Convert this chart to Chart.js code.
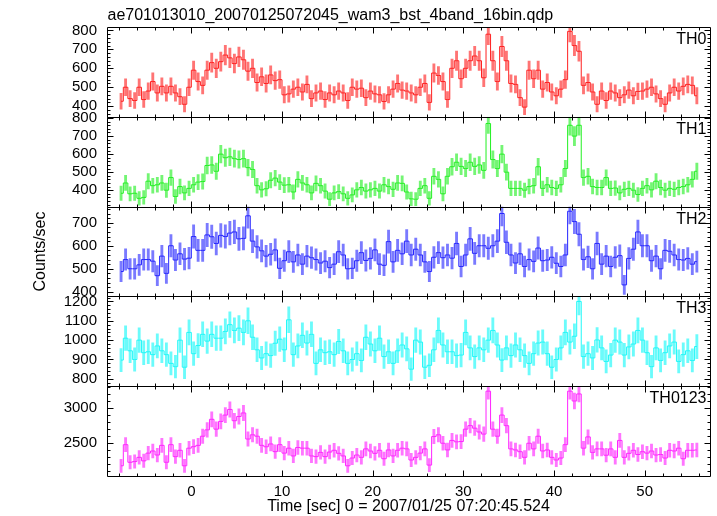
<!DOCTYPE html>
<html>
<head>
<meta charset="utf-8">
<script src="https://cdn.jsdelivr.net/npm/chart.js@4.4.1/dist/chart.umd.min.js"></script>
<style>
  html, body { margin: 0; padding: 0; background: #fff; }
</style>
</head>
<body>
<canvas id="lc" width="717" height="516"></canvas>
<script>
// bin centres start at -7.75 s, one value every 0.5 s
const T_START = -7.75;
const T_STEP = 0.5;
const EXPOSURE = 0.25; // s per bin, for the poisson error bars

const th0 = [
  426,500,440,430,500,435,480,530,470,505, 470,505,470,450,410,500,590,530,510,590,
  630,600,635,670,655,625,660,645,585,600, 525,555,520,565,535,540,460,465,490,500,
  475,515,440,470,480,435,470,460,480,470, 430,500,490,495,445,480,465,460,425,460,
  490,520,485,480,
  470,460,500,520,420,575,562,530,435,600, 640,545,600,640,665,640,550,780,640,530,
  715,640,520,515,445,395,590,545,590,490, 525,475,455,490,540,795,720,690,510,525,
  475,410,480,430,480,470,445,460,485,455, 478,480,490,500,465,440,410,470,500,480,
  505,515,510,455
];
const th1 = [
  383,440,380,383,355,360,450,425,430,440, 400,470,365,420,385,410,430,445,448,537,
  540,505,600,580,585,575,570,575,525,515, 425,402,408,455,467,445,428,430,390,460,
  440,430,385,438,425,395,350,385,392,380, 355,374,402,415,395,402,410,395,430,420,
  405,440,438,390,
  352,350,410,425,355,477,460,380,477,530, 555,532,520,555,532,540,510,770,570,520,
  600,500,410,410,410,400,420,425,530,410, 430,415,410,430,520,760,700,760,470,477,
  420,415,415,470,410,412,385,405,410,400, 376,410,425,402,450,415,400,410,405,415,
  420,430,460,505
];
const th2 = [
  488,540,500,500,517,540,540,533,470,555, 480,600,538,565,542,546,640,580,580,647,
  639,610,645,640,655,660,630,632,730,620, 595,578,555,563,582,502,535,574,530,560,
  520,555,548,540,525,533,505,520,574,560, 500,502,535,570,536,545,582,520,515,618,
  530,580,565,620,
  560,585,560,530,488,550,570,548,560,546, 610,510,560,630,567,600,600,589,600,620,
  740,615,560,525,565,510,540,532,590,535, 538,550,524,510,560,750,705,650,540,552,
  500,610,520,555,510,550,557,430,545,585, 660,600,600,535,555,500,580,576,560,540,
  538,545,520,531
];
const th3 = [
  897,1010,945,900,1000,935,940,925,970,945, 925,880,863,1000,860,1040,930,972,1030,995,
  1030,1010,1010,1045,1080,1050,1062,1040,1100,1015, 950,908,930,920,984,1005,950,1105,925,970,
  1025,985,1030,880,950,935,940,925,993,945, 880,900,930,895,1015,980,945,1010,915,940,
  880,945,975,955,
  850,1000,990,860,870,950,1050,975,940,940, 920,923,1040,960,915,960,950,1000,1050,975,
  897,960,920,975,950,920,880,930,985,990, 930,860,900,960,1040,990,1020,1200,915,930,
  908,1001,960,890,923,1000,990,923,965,980, 1050,1000,935,863,960,895,935,970,990,890,
  925,945,895,967
];
const th0123 = [
  2180,2480,2230,2240,2300,2250,2360,2390,2333,2470, 2230,2480,2310,2400,2180,2430,2452,2470,2600,2690,
  2840,2700,2810,2900,2980,2820,2880,2930,2560,2620, 2600,2470,2450,2490,2381,2480,2360,2430,2320,2440,
  2430,2430,2320,2310,2370,2310,2375,2400,2357,2320, 2180,2290,2333,2300,2420,2390,2357,2400,2280,2405,
  2320,2400,2430,2420,
  2262,2300,2360,2420,2190,2595,2620,2500,2405,2540, 2520,2524,2700,2750,2714,2660,2630,3240,2700,2600,
  2900,2750,2420,2405,2380,2300,2500,2420,2600,2390, 2405,2300,2262,2290,2480,3240,3100,3200,2430,2590,
  2370,2420,2420,2330,2420,2300,2540,2300,2357,2400, 2340,2380,2360,2390,2333,2340,2290,2400,2390,2430,
  2280,2400,2400,2405
];

const bandNames = ['TH0', 'TH1', 'TH2', 'TH3', 'TH0123'];
const bandValues = [th0, th1, th2, th3, th0123];
const xTickValues = [0, 10, 20, 30, 40, 50];
const yTickValues = [
  [400, 500, 600, 700, 800],
  [400, 500, 600, 700, 800],
  [400, 500, 600, 700],
  [800, 900, 1000, 1100, 1200],
  [2500, 3000]
];

// axis ranges and look of each panel
const yRange = [[344, 818], [309, 807], [380, 770], [762, 1226], [2035, 3310]];
const yMinor = [20, 20, 20, 20, 100];
const lineColor = ['#ff2020', '#22f022', '#2424ff', '#1ef8f8', '#ff24ff'];
const barColor = ['rgba(255,50,50,0.68)', 'rgba(50,240,50,0.68)', 'rgba(50,50,255,0.65)',
                  'rgba(50,250,250,0.72)', 'rgba(255,50,255,0.68)'];

const FONT = "'Liberation Sans', Arial, Helvetica, sans-serif";

const datasets = [];
bandValues.forEach((vals, i) => {
  datasets.push({
    type: 'bar',
    data: vals.map((v, j) => {
      const e = Math.sqrt(v / EXPOSURE);
      return { x: T_START + j * T_STEP, y: [v - e, v + e] };
    }),
    yAxisID: 'y' + i,
    backgroundColor: barColor[i],
    borderWidth: 0,
    barThickness: 2.2,
    grouped: false,
    order: 2
  });
  datasets.push({
    type: 'line',
    data: vals.map((v, j) => ({ x: T_START + j * T_STEP, y: v })),
    yAxisID: 'y' + i,
    borderColor: lineColor[i],
    borderWidth: 1,
    pointRadius: 0,
    stepped: 'middle',
    fill: false,
    order: 1
  });
});

const scales = {
  x: {
    type: 'linear',
    position: 'bottom',
    min: -9.3,
    max: 57.2,
    offset: false,
    grid: { display: false, drawTicks: false },
    border: { display: false },
    ticks: { color: '#000', font: { family: FONT, size: 15 }, padding: 7, maxRotation: 0, autoSkip: false,
             callback: v => String(v) },
    afterBuildTicks: s => { s.ticks = xTickValues.map(v => ({ value: v })); },
    afterFit: s => { s.height = 40; },
    title: {
      display: true,
      text: 'Time [sec] 0 = 2007/01/25 07:20:45.524',
      color: '#000',
      font: { family: FONT, size: 16 },
      padding: { top: 0, bottom: 0 }
    }
  }
};
bandNames.forEach((name, i) => {
  scales['y' + i] = {
    type: 'linear',
    position: 'left',
    stack: 'panels',
    stackWeight: 1,
    weight: 5 - i,
    min: yRange[i][0],
    max: yRange[i][1],
    grid: { display: false, drawTicks: false },
    border: { display: false },
    ticks: { color: '#000', font: { family: FONT, size: 15 }, padding: 10, autoSkip: false,
             callback: v => String(v) },
    afterBuildTicks: s => { s.ticks = yTickValues[i].map(v => ({ value: v })); },
    afterFit: s => { s.width = 107; }
  };
});

// qdp style boxes: inward ticks on all four sides, band names, titles
const panelFrame = {
  id: 'panelFrame',
  beforeDatasetDraw(chart, args) {
    const m = args.meta, ctx = chart.ctx;
    ctx.save();
    ctx.beginPath();
    ctx.rect(m.xScale.left, m.yScale.top, m.xScale.right - m.xScale.left, m.yScale.bottom - m.yScale.top);
    ctx.clip();
  },
  afterDatasetDraw(chart) {
    chart.ctx.restore();
  },
  afterDraw(chart) {
    const ctx = chart.ctx;
    const xs = chart.scales.x;
    const L = Math.round(xs.left) + 0.5, R = Math.round(xs.right) + 0.5;
    ctx.save();
    ctx.strokeStyle = '#000';
    ctx.lineWidth = 1;
    ctx.fillStyle = '#000';
    bandNames.forEach((name, i) => {
      const ys = chart.scales['y' + i];
      const T = Math.round(ys.top) + 0.5, B = Math.round(ys.bottom) + 0.5;
      ctx.beginPath();
      ctx.rect(L, T, R - L, B - T);
      // time ticks on top and bottom edge
      for (let t = -8; t <= 56; t += 2) {
        const px = Math.round(xs.getPixelForValue(t)) + 0.5;
        const len = t % 10 === 0 ? 6 : 3;
        ctx.moveTo(px, T); ctx.lineTo(px, T + len);
        ctx.moveTo(px, B); ctx.lineTo(px, B - len);
      }
      // count ticks on left and right edge
      const step = yMinor[i];
      const major = yTickValues[i][1] - yTickValues[i][0];
      for (let v = Math.ceil(ys.min / step) * step; v <= ys.max; v += step) {
        const py = Math.round(ys.getPixelForValue(v)) + 0.5;
        const len = v % major === 0 ? 6 : 3;
        ctx.moveTo(L, py); ctx.lineTo(L + len, py);
        ctx.moveTo(R, py); ctx.lineTo(R - len, py);
      }
      ctx.stroke();
      ctx.font = '16px ' + FONT;
      ctx.textAlign = 'right';
      ctx.textBaseline = 'alphabetic';
      ctx.fillText(name, R - 4, T + 16);
    });
    ctx.font = '16px ' + FONT;
    ctx.textAlign = 'left';
    ctx.fillText('ae701013010_20070125072045_wam3_bst_4band_16bin.qdp', L, 20);
    ctx.translate(41, (chart.chartArea.top + chart.chartArea.bottom) / 2);
    ctx.rotate(-Math.PI / 2);
    ctx.textAlign = 'center';
    ctx.textBaseline = 'middle';
    ctx.fillText('Counts/sec', 0, 0);
    ctx.restore();
  }
};

new Chart(document.getElementById('lc'), {
  type: 'bar',
  data: { datasets: datasets },
  options: {
    responsive: false,
    animation: false,
    devicePixelRatio: 1,
    layout: { padding: { top: 27, right: 7, left: 0, bottom: 0 } },
    plugins: { legend: { display: false }, tooltip: { enabled: false }, title: { display: false } },
    scales: scales
  },
  plugins: [panelFrame]
});
</script>
</body>
</html>
